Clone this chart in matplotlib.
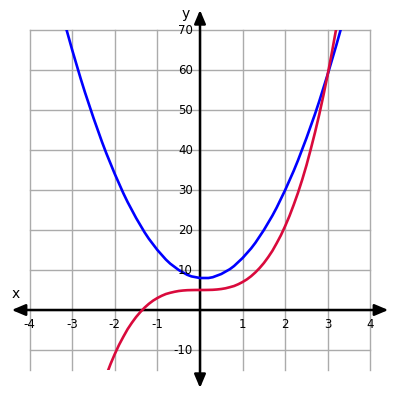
import matplotlib
matplotlib.use('Agg')
import matplotlib.pyplot as plt
from matplotlib.patches import Rectangle

# values (step 0.1)
blue_x = [-3.2, -3.1, -3.0, -2.9, -2.8, -2.7, -2.6, -2.5, -2.4, -2.3, -2.2, -2.1,
          -2.0, -1.9, -1.8, -1.7, -1.6, -1.5, -1.4, -1.3, -1.2, -1.1, -1.0, -0.9,
          -0.8, -0.7, -0.6, -0.5, -0.4, -0.3, -0.2, -0.1, 0.0, 0.1, 0.2, 0.3,
          0.4, 0.5, 0.6, 0.7, 0.8, 0.9, 1.0, 1.1, 1.2, 1.3, 1.4, 1.5, 1.6, 1.7,
          1.8, 1.9, 2.0, 2.1, 2.2, 2.3, 2.4, 2.5, 2.6, 2.7, 2.8, 2.9, 3.0, 3.1,
          3.2, 3.3, 3.4]
blue_y = [72.6, 68.8, 65.0, 61.4, 57.8, 54.4, 51.2, 48.0, 45.0, 42.0, 39.2, 36.6,
          34.0, 31.6, 29.2, 27.0, 25.0, 23.0, 21.2, 19.4, 17.8, 16.4, 15.0, 13.8,
          12.6, 11.6, 10.8, 10.0, 9.4, 8.8, 8.4, 8.2, 8.0, 8.0, 8.0, 8.2,
          8.6, 9.0, 9.6, 10.2, 11.0, 12.0, 13.0, 14.2, 15.4, 16.8, 18.4, 20.0, 21.8, 23.6,
          25.6, 27.8, 30.0, 32.4, 34.8, 37.4, 40.2, 43.0, 46.0, 49.0, 52.2, 55.6, 59.0, 62.6,
          66.2, 70.0, 74.0]

red_x = [-2.2, -2.1, -2.0, -1.9, -1.8, -1.7, -1.6, -1.5, -1.4, -1.3, -1.2, -1.1,
         -1.0, -0.9, -0.8, -0.7, -0.6, -0.5, -0.4, -0.3, -0.2, -0.1, 0.0, 0.1,
         0.2, 0.3, 0.4, 0.5, 0.6, 0.7, 0.8, 0.9, 1.0, 1.1, 1.2, 1.3, 1.4, 1.5,
         1.6, 1.7, 1.8, 1.9, 2.0, 2.1, 2.2, 2.3, 2.4, 2.5, 2.6, 2.7, 2.8, 2.9,
         3.0, 3.1, 3.2, 3.3]
red_y = [-16.3, -13.5, -11.0, -8.7, -6.7, -4.8, -3.2, -1.75, -0.5, 0.6, 1.55, 2.35,
         3.0, 3.55, 4.0, 4.3, 4.55, 4.75, 4.87, 4.95, 4.98, 5.0, 5.0, 5.0,
         5.02, 5.05, 5.13, 5.25, 5.43, 5.7, 6.0, 6.45, 7.0, 7.65, 8.45, 9.4, 10.5, 11.75,
         13.2, 14.8, 16.7, 18.7, 21.0, 23.5, 26.3, 29.3, 32.6, 36.2, 40.2, 44.4, 48.9, 53.8,
         59.0, 64.6, 70.5, 76.9]

x_ticks = [-4, -3, -2, -1, 1, 2, 3, 4]
y_ticks = [-10, 10, 20, 30, 40, 50, 60, 70]
grid_x = [-4, -3, -2, -1, 0, 1, 2, 3, 4]
grid_y = [-10, 0, 10, 20, 30, 40, 50, 60, 70]

fig = plt.figure(figsize=(4, 4), dpi=100)
ax = fig.add_axes([0, 0, 1, 1])
ax.set_xlim(-4.695, 4.695)
ax.set_ylim(-22.5, 77.5)
ax.axis('off')

GRID = '#ababab'
for gx in grid_x:
    ax.plot([gx, gx], [-15, 70], color=GRID, lw=1, zorder=1)
for gy in grid_y:
    ax.plot([-4, 4], [gy, gy], color=GRID, lw=1, zorder=1)

# axes with arrows
arrow = dict(arrowstyle='<|-|>,head_length=0.9,head_width=0.38',
             lw=1.8, color='black', mutation_scale=9, shrinkA=0, shrinkB=0)
ax.annotate('', xy=(-4.42, 0), xytext=(4.42, 0), arrowprops=arrow, zorder=3)
ax.annotate('', xy=(0, 75.0), xytext=(0, -19.5), arrowprops=arrow, zorder=3)

clip = Rectangle((-4, -15), 8, 85, transform=ax.transData, visible=False)
ax.add_patch(clip)
l1, = ax.plot(blue_x, blue_y, color='#0000ff', lw=1.9, zorder=4)
l2, = ax.plot(red_x, red_y, color='#d90a3c', lw=1.9, zorder=4)
l1.set_clip_path(clip)
l2.set_clip_path(clip)

for t in x_ticks:
    ax.text(t, -3.6, str(t), ha='center', va='center', fontsize=8.5, zorder=5)
for t in y_ticks:
    ax.text(-0.17, t, str(t), ha='right', va='center', fontsize=8.5, zorder=5)

ax.text(-4.32, 4.0, 'x', ha='center', va='center', fontsize=10)
ax.text(-0.33, 74.0, 'y', ha='center', va='center', fontsize=10)

fig.savefig('out.png', dpi=100)
